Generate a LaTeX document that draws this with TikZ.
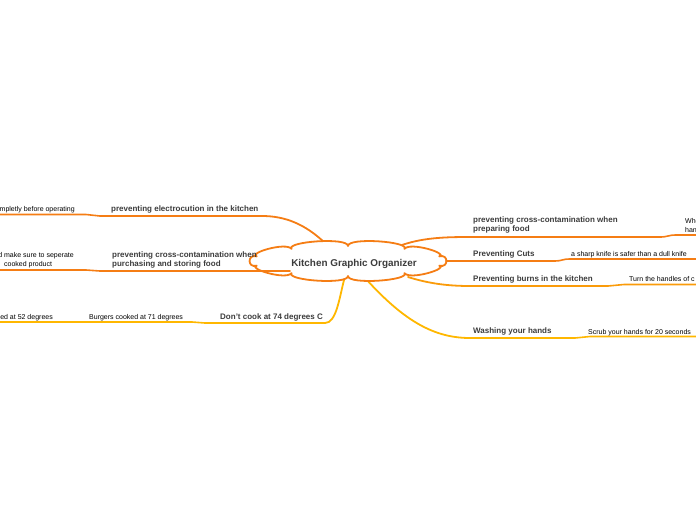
\documentclass[tikz,border=0pt]{standalone}
\usepackage{fontspec}
\setmainfont{Liberation Sans}
\definecolor{corange}{RGB}{245,125,20}
\definecolor{cyellow}{RGB}{255,183,0}
\definecolor{cmix}{RGB}{250,155,10}
\definecolor{ctext}{RGB}{60,60,60}
\tikzset{
  mainlbl/.style={anchor=base west,inner sep=0pt,font=\fontsize{8}{9}\selectfont\bfseries,text=ctext,align=left},
  sublbl/.style={anchor=base west,inner sep=0pt,font=\fontsize{7}{8.6}\selectfont,text=black,align=left},
  conn/.style={line width=1.8pt,line cap=round},
  uline/.style={line width=1.6pt,line cap=round},
  cloudline/.style={draw=corange,fill=white,line width=1.8pt,line join=round},
}
\begin{document}
\begin{tikzpicture}[x=1pt,y=-1pt]
\useasboundingbox (0,0) rectangle (696,520);
% coordinates
\coordinate (e1) at (262,216); \coordinate (e2) at (100,216); \coordinate (e3) at (86,214.5); \coordinate (e4) at (0,214.5);
\coordinate (c1) at (290,271); \coordinate (c2) at (100,271); \coordinate (c3) at (86,270); \coordinate (c4) at (0,270);
\coordinate (d1) at (325,323); \coordinate (d2) at (205,323); \coordinate (d3) at (192,322); \coordinate (d4) at (0,322);
\coordinate (r1) at (473,237); \coordinate (r2) at (660,237); \coordinate (r3) at (676,235); \coordinate (r4) at (696,235);
\coordinate (p1) at (446,261); \coordinate (p2) at (555,261); \coordinate (p3) at (570,259); \coordinate (p4) at (696,259);
\coordinate (b1) at (470,286); \coordinate (b2) at (608,286); \coordinate (b3) at (624,284.5); \coordinate (b4) at (696,284.5);
\coordinate (w1) at (470,338); \coordinate (w2) at (575,338); \coordinate (w3) at (590,336.5); \coordinate (w4) at (696,336.5);
% connector ends on the cloud
\coordinate (ce) at (325,243);
\coordinate (cd) at (344,280);
\coordinate (cr) at (402,245);
\coordinate (cb) at (408,277);
\coordinate (cw) at (366,279);
\draw[corange,conn] (ce) .. controls (305,224) and (285,216) .. (e1);
\draw[cyellow,conn] (cd) .. controls (339,300) and (336,323) .. (d1);
\draw[corange,conn] (cr) .. controls (425,237) and (450,237) .. (r1);
\draw[cmix,conn] (cb) .. controls (430,284) and (450,286) .. (b1);
\draw[cyellow,conn] (cw) .. controls (405,322) and (435,338) .. (w1);
% cloud
\path[cloudline] ({348+96*cos(-18)},{261-15*sin(-18)})
  \foreach \i [evaluate=\i as \ta using -18+36*\i, evaluate=\i as \tb using 18+36*\i] in {0,...,9} {
    .. controls ({348+106*cos(\ta)},{261-24*sin(\ta)}) and ({348+106*cos(\tb)},{261-24*sin(\tb)}) ..
    ({348+96*cos(\tb)},{261-15*sin(\tb)})
  } -- cycle;
\node[inner sep=0pt,font=\fontsize{9.9}{11}\selectfont\bfseries,text=ctext] (title) at (354,264) {Kitchen Graphic Organizer};
% underlines
\draw[corange,uline] (e1) -- (e2) .. controls (93,216) and (93,214.5) .. (e3) -- (e4);
\draw[corange,uline] (c1) -- (c2) .. controls (93,271) and (93,270) .. (c3) -- (c4);
\draw[cyellow,uline] (d1) -- (d2) .. controls (198,323) and (198,322) .. (d3) -- (d4);
\draw[corange,uline] (r1) -- (r2) .. controls (668,237) and (668,235) .. (r3) -- (r4);
\draw[corange,uline] (p1) -- (p2) .. controls (562,261) and (562,259) .. (p3) -- (p4);
\draw[cmix,uline] (b1) -- (b2) .. controls (616,286) and (616,284.5) .. (b3) -- (b4);
\draw[cyellow,uline] (w1) -- (w2) .. controls (582,338) and (582,336.5) .. (w3) -- (w4);
% labels
\node[mainlbl] (elec) at (111,211) {preventing electrocution in the kitchen};
\node[sublbl,anchor=base east] (elecs) at (75,211.5) {mpletly before operating};
\node[mainlbl] (ccl) at (112,266.5) {preventing cross-contamination when\\purchasing and storing food};
\node[sublbl,anchor=base east] (ccls) at (74,266.5) {d make sure to seperate\\\phantom{d} cooked product};
\node[mainlbl] (dont) at (220,319) {Don't cook at 74 degrees C};
\node[sublbl] (burg) at (89,319) {Burgers cooked at 71 degrees};
\node[sublbl,anchor=base east] (fiftytwo) at (53,319) {ed at 52 degrees};
\node[mainlbl] (ccr) at (473,231.5) {preventing cross-contamination when\\preparing food};
\node[sublbl] (ccrs) at (685,232.5) {Whe\\han};
\node[mainlbl] (cuts) at (473,256) {Preventing Cuts};
\node[sublbl] (cutss) at (571,256) {a sharp knife is safer than a dull knife};
\node[mainlbl] (burn) at (473,281) {Preventing burns in the kitchen};
\node[sublbl] (burns) at (629,281) {Turn the handles of c};
\node[mainlbl] (wash) at (473,333) {Washing your hands};
\node[sublbl] (washs) at (588,334) {Scrub your hands for 20 seconds};
\end{tikzpicture}
\end{document}
